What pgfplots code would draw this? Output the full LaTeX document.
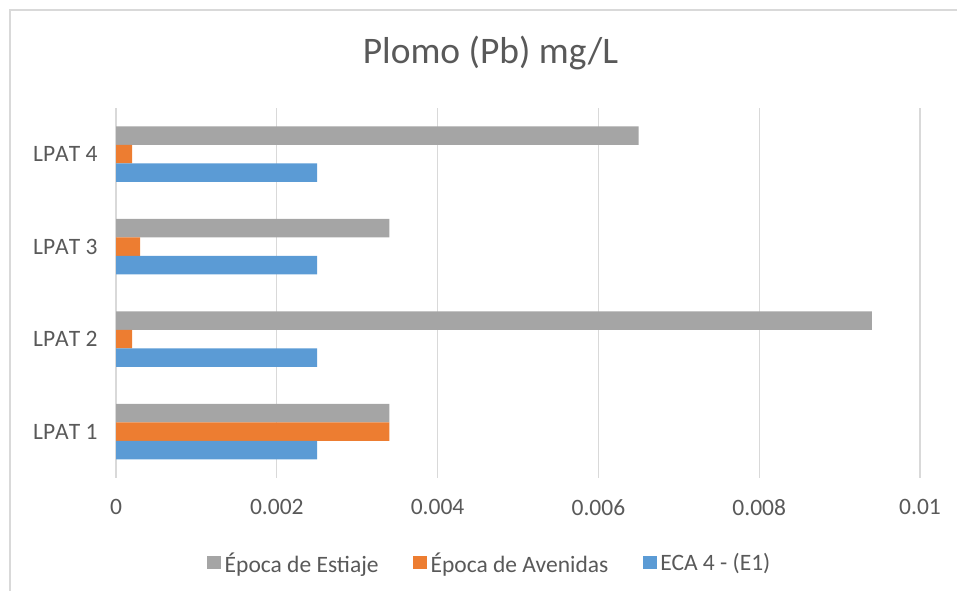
\documentclass[border=0pt]{standalone}
\usepackage{pgfplots}
\pgfplotsset{compat=1.18}
\usepackage{fontspec}
\setmainfont{Carlito}
\definecolor{txt}{HTML}{595959}
\definecolor{gridc}{HTML}{D9D9D9}
\definecolor{estiaje}{HTML}{A5A5A5}
\definecolor{avenidas}{HTML}{ED7D31}
\definecolor{eca}{HTML}{5B9BD5}
\begin{document}
\begin{tikzpicture}[x=1bp,y=1bp]
\useasboundingbox (0,0) rectangle (957,591);
\draw[gridc, line width=1.5bp] (10,0) -- (10,581) -- (957,581);
\node[font=\fontsize{37.5bp}{40bp}\selectfont, text=txt, anchor=base] at (490.5,527) {Plomo (Pb) mg/L};
\begin{axis}[
    at={(116bp,113bp)}, anchor=south west,
    scale only axis,
    width=804bp, height=370bp,
    xbar,
    bar width=0.2,
    xmin=0, xmax=0.01,
    ymin=0.5, ymax=4.5,
    xtick={0,0.002,0.004,0.006,0.008,0.01},
    scaled x ticks=false,
    xticklabel style={/pgf/number format/fixed, /pgf/number format/precision=3, yshift=-18bp},
    ytick={1,2,3,4},
    yticklabels={LPAT 1, LPAT 2, LPAT 3, LPAT 4},
    yticklabel style={xshift=-15bp, font=\fontsize{23.5bp}{26bp}\selectfont\addfontfeatures{Kerning=Off}},
    /pgf/number format/assume math mode=true,
    tick label style={font=\fontsize{23.5bp}{26bp}\selectfont, text=txt},
    major tick length=0pt,
    axis line style={draw=none},
    xmajorgrids,
    major grid style={gridc, line width=1.2bp},
    legend columns=3,
    legend style={at={(0.4658,-0.2297)}, anchor=center, draw=none, fill=none,
        font=\fontsize{23.5bp}{26bp}\selectfont, text=txt,
        nodes={inner xsep=3.5bp},
        /tikz/every odd column/.append style={column sep=0bp},
        /tikz/every even column/.append style={column sep=31bp}},
    legend image code/.code={\fill[#1] (0bp,-6.5bp) rectangle (14bp,6.5bp);},
    ]
    \addplot[fill=estiaje, draw=none, bar shift=0.2] coordinates {
        (0.0034,1) (0.0094,2) (0.0034,3) (0.0065,4)
    };
    \addlegendentry{Época de Estiaje}
    \addplot[fill=avenidas, draw=none, bar shift=0] coordinates {
        (0.0034,1) (0.0002,2) (0.0003,3) (0.0002,4)
    };
    \addlegendentry{Época de Avenidas}
    \addplot[fill=eca, draw=none, bar shift=-0.2] coordinates {
        (0.0025,1) (0.0025,2) (0.0025,3) (0.0025,4)
    };
    \addlegendentry{ECA 4 - (E1)}
\end{axis}
\end{tikzpicture}
\end{document}
